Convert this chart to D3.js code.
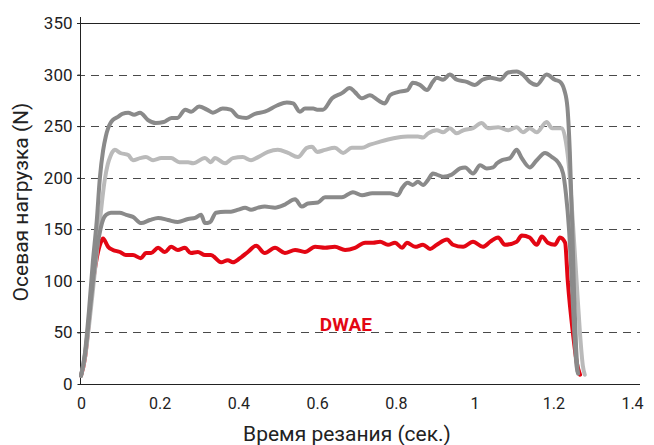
<!DOCTYPE html>
<html lang="ru">
<head>
  <meta charset="UTF-8">
  <title>Осевая нагрузка</title>
  <script src="https://d3js.org/d3.v7.min.js"></script>
  <style>
    body { margin: 0; background: #fff; }
    svg { display: block; font-family: Roboto, "Noto Sans", sans-serif; }
  </style>
</head>
<body>
  <svg width="654" height="445"></svg>
  <script>
    // [time (s), load (N)]
    const seriesTop = [[0,8],[0.01,30],[0.02,70],[0.03,118],[0.04,158],[0.048,200],[0.056,226],[0.063,240],[0.069,248],[0.075,253],[0.081,256],[0.094,259],[0.105,262],[0.12,263],[0.135,261],[0.15,263],[0.17,256],[0.19,253],[0.21,254],[0.23,258],[0.245,258],[0.265,266],[0.28,264],[0.30,269],[0.32,266],[0.335,263],[0.36,267],[0.38,266],[0.40,259],[0.42,258],[0.442,262],[0.467,264],[0.498,270],[0.523,273],[0.539,272],[0.556,264],[0.569,267],[0.59,267],[0.60,266],[0.615,266],[0.638,277],[0.663,282],[0.683,287],[0.696,283],[0.714,277],[0.734,280],[0.755,275],[0.772,272],[0.785,280],[0.805,283],[0.83,285],[0.843,292],[0.861,290],[0.879,285],[0.894,293],[0.904,297],[0.92,295],[0.937,300],[0.955,295],[0.98,293],[1.0,290],[1.02,295],[1.04,297],[1.065,295],[1.085,302],[1.107,303],[1.123,300],[1.14,293],[1.158,290],[1.183,300],[1.204,295],[1.217,293],[1.228,285],[1.236,268],[1.242,225],[1.248,155],[1.253,85],[1.258,35],[1.262,12]];
    const seriesLight = [[0,8],[0.01,25],[0.02,55],[0.03,90],[0.04,127],[0.05,165],[0.06,197],[0.068,213],[0.075,221],[0.08,225],[0.086,227],[0.10,224],[0.12,222],[0.132,217],[0.15,219],[0.165,220],[0.183,217],[0.204,219],[0.229,219],[0.25,215],[0.272,215],[0.285,214],[0.315,219],[0.33,215],[0.34,219],[0.366,214],[0.386,219],[0.411,220],[0.432,217],[0.45,220],[0.475,225],[0.50,227],[0.526,224],[0.551,220],[0.574,229],[0.587,230],[0.60,225],[0.62,227],[0.645,229],[0.666,224],[0.688,229],[0.714,229],[0.734,232],[0.76,235],[0.78,237],[0.805,239],[0.83,240],[0.856,240],[0.869,239],[0.882,243],[0.904,246],[0.92,244],[0.937,248],[0.955,243],[0.971,246],[0.996,248],[1.018,253],[1.034,248],[1.06,249],[1.085,246],[1.107,249],[1.123,244],[1.14,248],[1.158,244],[1.183,254],[1.197,248],[1.222,248],[1.232,235],[1.24,210],[1.25,155],[1.26,95],[1.268,48],[1.275,18],[1.28,9]];
    const seriesMid = [[0,8],[0.01,28],[0.02,62],[0.03,98],[0.04,130],[0.05,151],[0.058,161],[0.064,164],[0.076,166],[0.098,166],[0.115,164],[0.132,162],[0.153,156],[0.175,159],[0.196,161],[0.221,159],[0.246,157],[0.272,160],[0.29,161],[0.305,164],[0.315,156],[0.328,157],[0.343,166],[0.366,167],[0.381,167],[0.40,169],[0.417,171],[0.432,169],[0.45,171],[0.467,172],[0.493,171],[0.518,174],[0.544,179],[0.561,172],[0.577,175],[0.602,176],[0.62,181],[0.645,181],[0.663,181],[0.691,186],[0.714,183],[0.74,185],[0.765,185],[0.785,185],[0.805,183],[0.816,190],[0.83,195],[0.843,193],[0.856,196],[0.869,193],[0.882,198],[0.894,204],[0.904,203],[0.92,201],[0.942,203],[0.963,209],[0.976,210],[0.996,204],[1.014,212],[1.031,209],[1.047,210],[1.057,214],[1.07,217],[1.09,219],[1.107,227],[1.12,219],[1.14,210],[1.158,217],[1.179,224],[1.197,220],[1.212,215],[1.225,204],[1.232,185],[1.24,150],[1.247,100],[1.253,52],[1.259,18],[1.263,10]];
    const seriesDWAE = [[0,8],[0.01,25],[0.02,60],[0.03,97],[0.04,122],[0.05,137],[0.056,141],[0.069,133],[0.081,130],[0.099,128],[0.114,125],[0.132,125],[0.152,122],[0.165,127],[0.178,127],[0.196,132],[0.213,128],[0.229,133],[0.246,130],[0.264,132],[0.279,127],[0.297,128],[0.315,125],[0.33,125],[0.356,118],[0.373,120],[0.386,118],[0.404,122],[0.424,128],[0.445,134],[0.467,127],[0.493,132],[0.518,127],[0.544,130],[0.569,128],[0.595,133],[0.62,132],[0.645,133],[0.671,130],[0.696,132],[0.722,137],[0.742,137],[0.76,138],[0.78,135],[0.798,137],[0.816,132],[0.828,137],[0.849,133],[0.869,135],[0.887,131],[0.904,135],[0.93,140],[0.945,135],[0.971,133],[0.996,138],[1.021,133],[1.04,138],[1.06,142],[1.077,135],[1.107,138],[1.12,144],[1.14,142],[1.158,135],[1.171,143],[1.186,137],[1.204,135],[1.217,142],[1.23,137],[1.237,99],[1.25,49],[1.26,20],[1.268,9]];

    const xTicks = [0, 0.2, 0.4, 0.6, 0.8, 1, 1.2, 1.4];
    const yTicks = [0, 50, 100, 150, 200, 250, 300, 350];

    const svg = d3.select("svg");
    const x = d3.scaleLinear().domain([0, 1.4]).range([81, 632]);
    const y = d3.scaleLinear().domain([0, 350]).range([384, 23]);
    const gridRight = 640;

    // grid lines (top one solid, the rest dashed)
    svg.append("g").selectAll("line")
      .data(yTicks.filter(d => d > 0))
      .enter().append("line")
      .attr("x1", 77).attr("x2", gridRight)
      .attr("y1", d => Math.round(y(d)) + 0.5).attr("y2", d => Math.round(y(d)) + 0.5)
      .attr("stroke", d => d === 350 ? "#222" : "#4a4a4a")
      .attr("stroke-width", 1)
      .attr("stroke-dasharray", d => d === 350 ? null : "8,6");

    // y axis
    const yAxis = svg.append("g")
      .attr("transform", "translate(80.5,0)")
      .call(d3.axisLeft(y).tickValues(yTicks).tickSize(3).tickPadding(5));
    yAxis.select(".domain").remove();
    yAxis.selectAll("line").attr("stroke", "#222");
    yAxis.selectAll("text").attr("font-size", 17).attr("fill", "#222")
      .attr("font-family", "Roboto, sans-serif");
    svg.append("line").attr("x1", 80.5).attr("x2", 80.5).attr("y1", 17).attr("y2", 385)
      .attr("stroke", "#222");

    // x axis
    const xAxis = svg.append("g")
      .attr("transform", "translate(0,384.5)")
      .call(d3.axisBottom(x).tickValues(xTicks).tickSize(0).tickPadding(13).tickFormat(d3.format("")));
    xAxis.select(".domain").remove();
    xAxis.selectAll("text").attr("font-size", 16).attr("fill", "#222")
      .attr("font-family", "Roboto, sans-serif");
    svg.append("line").attr("x1", 80).attr("x2", gridRight).attr("y1", 384.5).attr("y2", 384.5)
      .attr("stroke", "#222");

    // curves
    const line = d3.line().x(d => x(d[0])).y(d => y(d[1])).curve(d3.curveMonotoneX);
    const curves = [
      { data: seriesDWAE, color: "#e30613" },
      { data: seriesLight, color: "#bababa" },
      { data: seriesMid, color: "#8a8a8a" },
      { data: seriesTop, color: "#8a8a8a" }
    ];
    svg.append("g").selectAll("path")
      .data(curves)
      .enter().append("path")
      .attr("d", d => line(d.data))
      .attr("fill", "none")
      .attr("stroke", d => d.color)
      .attr("stroke-width", 4)
      .attr("stroke-linejoin", "round")
      .attr("stroke-linecap", "round");

    // label
    svg.append("text")
      .attr("x", x(0.673)).attr("y", y(51))
      .attr("text-anchor", "middle")
      .attr("font-size", 19).attr("font-weight", "bold")
      .attr("fill", "#e30613")
      .text("DWAE");

    // axis titles
    svg.append("text")
      .attr("transform", "translate(28,202) rotate(-90)")
      .attr("text-anchor", "middle")
      .attr("font-size", 21).attr("fill", "#222")
      .text("Осевая нагрузка (N)");
    svg.append("text")
      .attr("x", 347).attr("y", 441)
      .attr("text-anchor", "middle")
      .attr("font-size", 21).attr("fill", "#222")
      .text("Время резания (сек.)");
  </script>
</body>
</html>
